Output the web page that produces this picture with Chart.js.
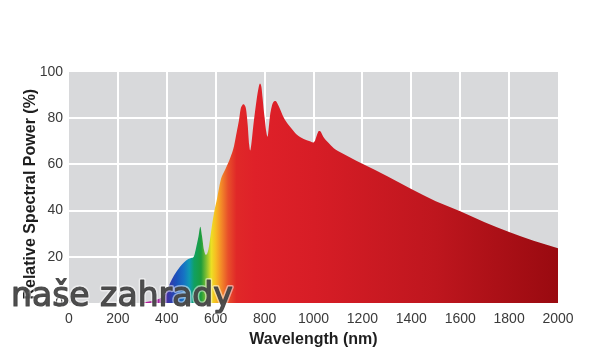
<!DOCTYPE html>
<html>
<head>
<meta charset="utf-8">
<script src="https://cdn.jsdelivr.net/npm/chart.js@4"></script>
<style>
  html, body { margin: 0; padding: 0; background: #fff; }
  #wrap { width: 600px; height: 363px; }
</style>
</head>
<body>
<div id="wrap"><canvas id="spd" width="600" height="363"></canvas></div>
<script>
// wavelengths (nm) and relative spectral power (%)
const wavelengths = [290, 340, 380, 400, 413, 430, 454, 470, 488, 500, 510, 522, 530, 537, 544, 552, 560, 570, 584, 595, 606, 620, 640, 660, 675, 686, 695, 702, 708, 713, 719, 724, 731, 737, 741, 746, 754, 761, 768, 775, 781, 787, 792, 797, 802, 807, 812, 817, 822, 829, 836, 842, 847, 855, 863, 875, 890, 910, 930, 960, 985, 998, 1007, 1015, 1022, 1028, 1040, 1060, 1083, 1100, 1150, 1200, 1300, 1400, 1500, 1600, 1700, 1800, 1900, 2000];
const power = [0, 1, 2.5, 5, 8.5, 12, 15.7, 17.5, 19, 19.5, 20, 25, 29, 33, 29, 23, 20.8, 23, 33, 40, 45.5, 53, 58, 63, 68, 74, 79, 84, 85.5, 86, 85.5, 84, 77, 68.5, 66, 69, 77, 83, 88.5, 93, 95, 93.5, 88.5, 83, 78.5, 74, 72, 76, 81, 85, 87, 87.5, 87.3, 85.8, 84, 81, 78.2, 75.5, 73, 71, 70, 69.5, 70.5, 73, 74.5, 74.3, 72, 69.5, 67, 65.8, 63, 60.3, 55, 49.3, 44, 39.7, 35, 30.7, 27, 23.7];

const xTicks = [0, 200, 400, 600, 800, 1000, 1200, 1400, 1600, 1800, 2000];
const yTicks = [0, 20, 40, 60, 80, 100];

// spectrum colours along the wavelength axis
const spectrum = [
  [290, '#c01c98'], [370, '#a0249f'], [405, '#3c34a6'], [440, '#1a52bc'],
  [470, '#1673c4'], [492, '#0f99b5'], [512, '#10a062'], [540, '#1d9c3c'],
  [562, '#84c032'], [582, '#ece024'], [600, '#f7bd22'], [622, '#f38c28'],
  [650, '#e8502a'], [685, '#e02828'], [760, '#df2129'], [1000, '#d71d26'],
  [1500, '#be161e'], [2000, '#990a10']
];

const font = "'Liberation Sans', Arial, Helvetica, sans-serif";

const plotBg = {
  id: 'plotBg',
  beforeDraw(chart) {
    const { ctx, chartArea: a } = chart;
    ctx.save();
    ctx.fillStyle = '#d8d9db';
    ctx.fillRect(a.left, a.top, a.right - a.left, a.bottom - a.top);
    ctx.restore();
  }
};

const watermark = {
  id: 'watermark',
  afterDraw(chart) {
    const ctx = chart.ctx;
    ctx.save();
    ctx.font = "33px 'DejaVu Sans', sans-serif";
    ctx.textBaseline = 'alphabetic';
    ctx.lineJoin = 'round';
    ctx.strokeStyle = 'rgba(255,255,255,0.5)';
    ctx.lineWidth = 4;
    ctx.strokeText('naše zahrady', 11, 306);
    ctx.fillStyle = 'rgba(70,70,70,0.95)';
    ctx.strokeStyle = 'rgba(70,70,70,0.95)';
    ctx.lineWidth = 1.2;
    ctx.fillText('naše zahrady', 11, 306);
    ctx.strokeText('naše zahrady', 11, 306);
    ctx.restore();
  }
};

function spectrumFill(c) {
  const chart = c.chart;
  if (!chart.chartArea) return '#e02828';
  const x = chart.scales.x;
  const x0 = x.getPixelForValue(0), x1 = x.getPixelForValue(2000);
  const g = chart.ctx.createLinearGradient(x0, 0, x1, 0);
  spectrum.forEach(([nm, col]) => g.addColorStop(nm / 2000, col));
  return g;
}

new Chart(document.getElementById('spd'), {
  type: 'line',
  data: {
    datasets: [{
      data: wavelengths.map((w, i) => ({ x: w, y: power[i] })),
      fill: 'origin',
      backgroundColor: spectrumFill,
      borderWidth: 0,
      borderColor: 'rgba(0,0,0,0)',
      pointRadius: 0,
      cubicInterpolationMode: 'monotone'
    }]
  },
  options: {
    responsive: false,
    animation: false,
    layout: { padding: { top: 72, right: 42, bottom: 0, left: 0 } },
    plugins: { legend: { display: false }, tooltip: { enabled: false } },
    scales: {
      x: {
        type: 'linear',
        min: 0, max: 2000,
        z: 1,
        afterBuildTicks: s => { s.ticks = xTicks.map(v => ({ value: v })); },
        afterFit: s => { s.height = 60; },
        grid: {
          color: c => (c.tick.value === 0 || c.tick.value === 2000) ? 'rgba(0,0,0,0)' : '#ffffff',
          lineWidth: 2,
          drawTicks: false
        },
        border: { display: false },
        ticks: { padding: 8, color: '#3a3a3a', font: { family: font, size: 14 }, maxRotation: 0, callback: v => String(v) },
        title: {
          display: true,
          text: 'Wavelength (nm)',
          color: '#1e1e1e',
          font: { family: font, size: 16, weight: 'bold' },
          padding: { top: 0, bottom: 14 }
        }
      },
      y: {
        min: 0, max: 100,
        z: 1,
        afterBuildTicks: s => { s.ticks = yTicks.map(v => ({ value: v })); },
        afterFit: s => { s.width = 69; },
        grid: {
          color: c => (c.tick.value === 0 || c.tick.value === 100) ? 'rgba(0,0,0,0)' : '#ffffff',
          lineWidth: 2,
          drawTicks: false
        },
        border: { display: false },
        ticks: { padding: 6, color: '#3a3a3a', font: { family: font, size: 14 }, callback: v => String(v) },
        title: {
          display: true,
          text: 'Relative Spectral Power (%)   ',
          color: '#1e1e1e',
          font: { family: font, size: 16, weight: 'bold' },
          padding: { top: 21, bottom: 0 }
        }
      }
    }
  },
  plugins: [plotBg, watermark]
});
</script>
</body>
</html>
